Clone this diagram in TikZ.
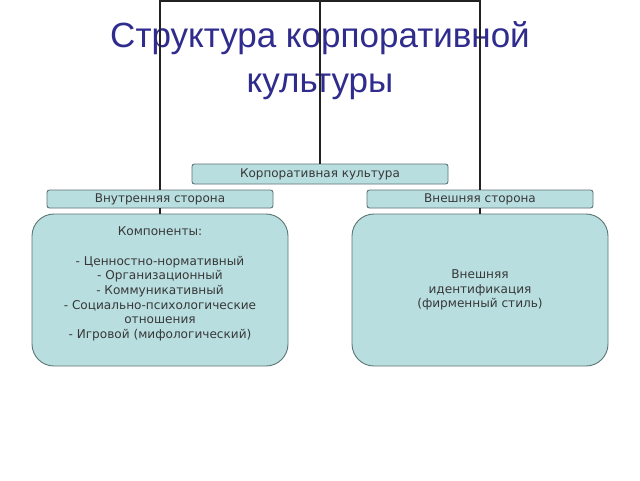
\documentclass[tikz,border=0pt]{standalone}
\usepackage{fontspec}
\setmainfont{DejaVu Sans}
\newfontfamily\titlefont{Liberation Sans}
\definecolor{boxfill}{HTML}{B8DEE0}
\definecolor{boxline}{HTML}{5E7476}
\definecolor{boxtext}{HTML}{383838}
\definecolor{titleblue}{HTML}{2F2C8E}
\definecolor{wire}{HTML}{222222}
\begin{document}
\begin{tikzpicture}[x=1pt,y=-1pt,
  smallbox/.style={draw=boxline, fill=boxfill, rounded corners=2.5pt, line width=0.9pt,
    text=boxtext, font=\fontsize{12}{14}\selectfont, inner sep=0pt, outer sep=0pt},
  bigbox/.style={draw=boxline, fill=boxfill, rounded corners=22pt, line width=0.9pt,
    text=boxtext, font=\fontsize{12.1}{14.7}\selectfont, align=center,
    minimum width=256pt, minimum height=152pt, inner sep=0pt, outer sep=0pt},
  wireline/.style={draw=wire, line width=1.5pt}]
\useasboundingbox[fill=white] (0,0) rectangle (640,480);

\node[text=titleblue, font=\titlefont\fontsize{35}{45}\selectfont, align=center, anchor=base]
  (title) at (320,92) {Структура корпоративной\\культуры};

\coordinate (topL) at (160,1);
\coordinate (topC) at (320,1);
\coordinate (topR) at (480,1);

\node[smallbox, minimum width=256pt, minimum height=20pt] (root) at (320,174) {Корпоративная культура};
\node[smallbox, minimum width=226pt, minimum height=18pt] (inner) at (160,199) {Внутренняя сторона};
\node[smallbox, minimum width=226pt, minimum height=18pt] (outer) at (480,199) {Внешняя сторона};

\node[bigbox] (lbig) at (160,290) {Компоненты:\\ \mbox{}\\- Ценностно-нормативный\\- Организационный\\- Коммуникативный\\- Социально-психологические\\отношения\\- Игровой (мифологический)\\ \mbox{}};
\node[bigbox] (rbig) at (480,290) {Внешняя\\идентификация\\(фирменный стиль)};

\draw[wireline] (root.north) -- (topC);
\draw[wireline, line cap=rect] (topL) -- (topR);
\draw[wireline] (topL) -- (inner.north);
\draw[wireline] (inner.south) -- (lbig.north);
\draw[wireline] (topR) -- (outer.north);
\draw[wireline] (outer.south) -- (rbig.north);
\end{tikzpicture}
\end{document}
